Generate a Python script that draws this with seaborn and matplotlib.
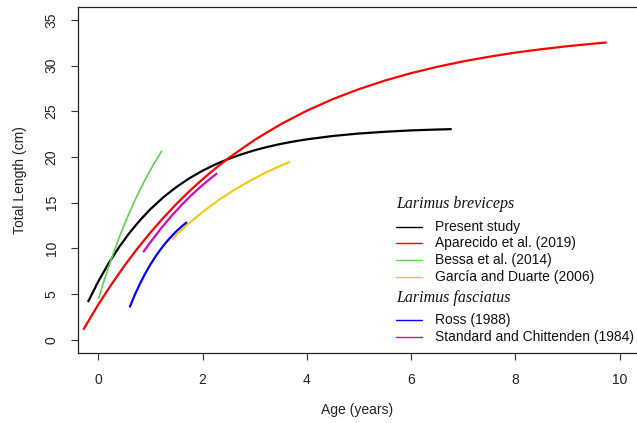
import numpy as np
import pandas as pd
import matplotlib
matplotlib.use("Agg")
import matplotlib.pyplot as plt
import seaborn as sns
from matplotlib.lines import Line2D

# ---- data ----
present_age = [-0.20, 0.00, 0.20, 0.40, 0.60, 0.80, 1.00, 1.25, 1.50, 1.75, 2.00, 2.25,
               2.50, 2.75, 3.00, 3.25, 3.50, 3.75, 4.00, 4.50, 5.00, 5.50, 6.00, 6.40, 6.78]
present_len = [4.12, 6.39, 8.39, 10.16, 11.72, 13.09, 14.30, 15.61, 16.73, 17.69, 18.51, 19.21,
               19.80, 20.31, 20.75, 21.12, 21.44, 21.71, 21.94, 22.31, 22.58, 22.77, 22.92, 23.00, 23.06]

apar_age = [-0.29, 0.00, 0.25, 0.50, 0.75, 1.00, 1.25, 1.50, 1.75, 2.00, 2.25, 2.50,
            3.00, 3.50, 4.00, 4.50, 5.00, 5.50, 6.00, 6.50, 7.00, 7.50, 8.00, 8.50, 9.00, 9.50, 9.75]
apar_len = [1.09, 3.86, 6.05, 8.10, 9.99, 11.74, 13.37, 14.88, 16.28, 17.58, 18.78, 19.90,
            21.89, 23.60, 25.08, 26.35, 27.44, 28.38, 29.19, 29.88, 30.48, 30.99, 31.44, 31.81,
            32.14, 32.42, 32.55]

bessa_age = [0.00, 0.10, 0.20, 0.30, 0.40, 0.50, 0.60, 0.70, 0.80, 0.90, 1.00, 1.10, 1.22]
bessa_len = [4.45, 6.30, 8.03, 9.65, 11.18, 12.62, 13.97, 15.24, 16.43, 17.55, 18.60, 19.59, 20.70]

garcia_age = [1.41, 1.70, 2.00, 2.30, 2.60, 2.90, 3.20, 3.45, 3.68]
garcia_len = [11.01, 12.57, 13.99, 15.26, 16.38, 17.38, 18.27, 18.93, 19.50]

ross_age = [0.60, 0.70, 0.80, 0.90, 1.00, 1.10, 1.20, 1.30, 1.40, 1.50, 1.60, 1.70]
ross_len = [3.54, 4.92, 6.15, 7.26, 8.25, 9.14, 9.94, 10.66, 11.31, 11.89, 12.41, 12.88]

stand_age = [0.86, 1.00, 1.20, 1.40, 1.60, 1.80, 2.00, 2.20, 2.28]
stand_len = [9.59, 10.68, 12.17, 13.53, 14.77, 15.91, 16.94, 17.88, 18.23]

series_names = ["Present study", "Aparecido et al. (2019)", "Bessa et al. (2014)",
                "García and Duarte (2006)", "Ross (1988)", "Standard and Chittenden (1984)"]
series_ages = [present_age, apar_age, bessa_age, garcia_age, ross_age, stand_age]
series_lens = [present_len, apar_len, bessa_len, garcia_len, ross_len, stand_len]
series_colors = ["#000000", "#FF0000", "#61D04F", "#F5C710", "#0000FF", "#CD0BBC"]
series_lw = [1.6, 1.6, 1.2, 1.5, 1.6, 1.6]

x_ticks = [0, 2, 4, 6, 8, 10]
y_ticks = [0, 5, 10, 15, 20, 25, 30, 35]

# ---- figure ----
sns.set_style("white")
plt.rcParams["font.family"] = ["Liberation Sans", "DejaVu Sans"]

W, H = 637, 423
fig = plt.figure(figsize=(W / 100, H / 100), dpi=100)
ax = fig.add_axes([77.5 / W, 1 - 352.5 / H, (640.4 - 77.5) / W, (352.5 - 7.3) / H])

for name, a, l, c, lw in zip(series_names, series_ages, series_lens, series_colors, series_lw):
    df = pd.DataFrame({"age": a, "len": l})
    sns.lineplot(data=df, x="age", y="len", ax=ax, color=c, linewidth=lw,
                 estimator=None, sort=False, legend=False)

for line in ax.get_lines():
    line.set_solid_joinstyle("round")
    line.set_solid_capstyle("butt")

ax.set_xlim(-0.4, 10.4)
ax.set_ylim(-1.4, 36.4)
ax.set_xticks(x_ticks)
ax.set_yticks(y_ticks)
ax.set_xticklabels([str(t) for t in x_ticks])
ax.set_yticklabels([str(t) for t in y_ticks], rotation=90, va="center")
ax.tick_params(axis="both", direction="out", length=5, width=0.8, color="#333333",
               labelsize=10, labelcolor="#222222", bottom=True, left=True)
ax.tick_params(axis="x", pad=9.5)
ax.tick_params(axis="y", pad=8.5)
for s in ax.spines.values():
    s.set_color("#222222")
    s.set_linewidth(0.9)
ax.set_xlabel("")
ax.set_ylabel("")

fig.text(357 / W, 1 - 410 / H, "Age (years)", ha="center", va="center", fontsize=10,
         color="#222222")
fig.text(20 / W, 1 - 180 / H, "Total Length (cm)", ha="center", va="center", fontsize=10,
         rotation=90, color="#222222")

# ---- legend (drawn manually, no frame) ----
def fx(px):
    return px / W

def fy(py):
    return 1 - py / H

fig.text(fx(396), fy(204), "Larimus breviceps", family=["Liberation Serif", "DejaVu Serif"],
         style="italic", fontsize=11.5, ha="left", va="center", color="#111111")
fig.text(fx(396), fy(298.3), "Larimus fasciatus", family=["Liberation Serif", "DejaVu Serif"],
         style="italic", fontsize=11.5, ha="left", va="center", color="#111111")
rows = [226.7, 243.3, 260.0, 276.7, 320.0, 336.5]
for name, c, ry in zip(series_names, series_colors, rows):
    fig.add_artist(Line2D([fx(396), fx(422)], [fy(ry), fy(ry)], color=c, linewidth=1.0,
                          transform=fig.transFigure))
    fig.text(fx(435), fy(ry), name, fontsize=10, ha="left", va="center", color="#111111")

fig.savefig("out.png", dpi=100)
